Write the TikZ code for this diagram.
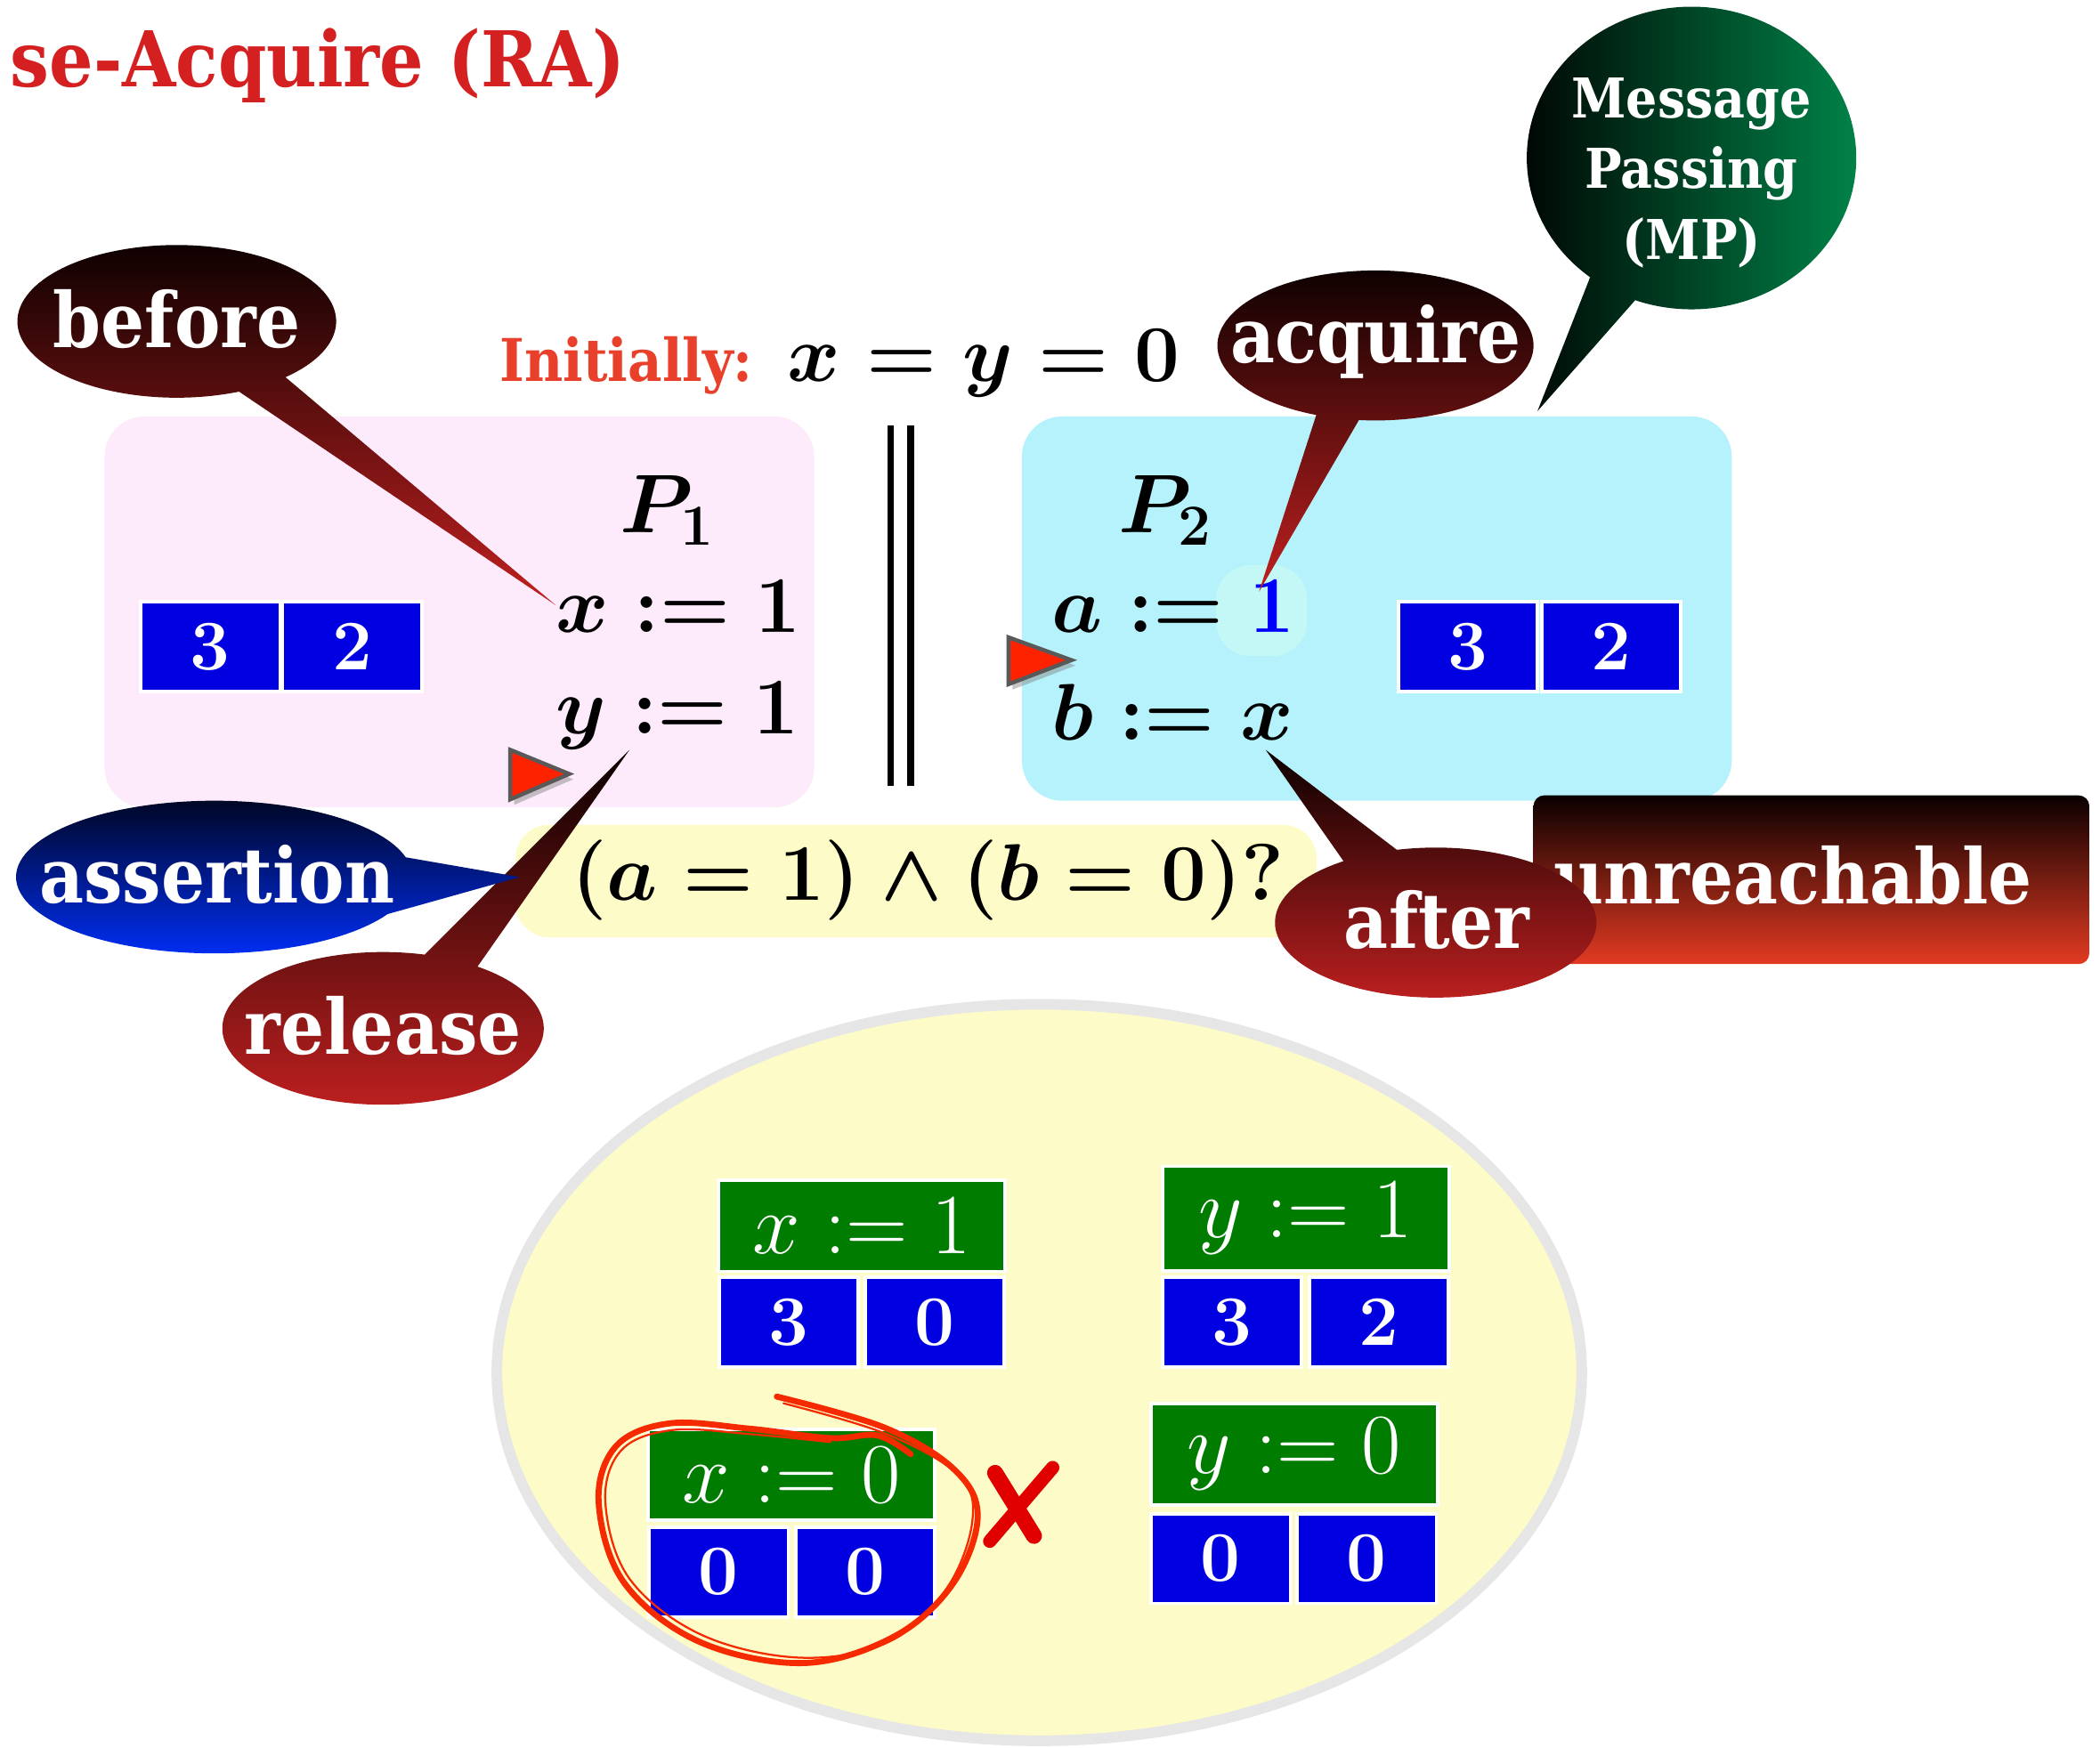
\RequirePackage{fix-cm}
\documentclass[tikz,border=0pt]{standalone}
\usepackage{fontspec}
\newfontfamily\slab[FakeStretch=0.9]{DejaVu Serif}
\usetikzlibrary{calc,shadows}
\definecolor{pinkbox}{HTML}{FDEAFA}
\definecolor{cyanbox}{HTML}{B5F2FB}
\definecolor{paleyel}{HTML}{FDFCC8}
\definecolor{cellblue}{HTML}{0000E0}
\definecolor{hdrgreen}{HTML}{007D00}
\definecolor{titlered}{HTML}{D42020}
\definecolor{initred}{HTML}{E8402A}
\definecolor{darkend}{HTML}{0A0000}
\definecolor{redend}{HTML}{C02020}
\definecolor{navytop}{HTML}{000418}
\definecolor{bluebot}{HTML}{0030FF}
\definecolor{mpgreen}{HTML}{008A4C}
\definecolor{hilite}{HTML}{C4F8F6}
\definecolor{markred}{HTML}{FF2200}
\definecolor{unrbot}{HTML}{E33A22}
\definecolor{blobgray}{HTML}{E6E6E6}
\definecolor{xred}{HTML}{E00000}
\definecolor{scribred}{HTML}{F52A00}
\newcommand\myfs[1]{\fontsize{#1}{#1}\selectfont}
\newcommand\bubble[7]{%
  \path[#7] (#6) -- ($(#1)+(#4:#2 and #3)$) arc[start angle=#4, end angle=#5, x radius=#2, y radius=#3] -- cycle;}
\begin{document}
\begin{tikzpicture}[x=1pt,y=-1pt,
  bubbletext/.style={text=white, font=\slab\bfseries\myfs{57}, inner sep=0, align=center},
  cell/.style={draw=white, line width=2.5, fill=cellblue, text=white, minimum width=104, minimum height=67, inner sep=0, font=\bfseries\myfs{53}},
  hdr/.style={draw=white, line width=2.5, fill=hdrgreen, text=white, minimum width=214, minimum height=68, inner sep=0, font=\myfs{64}},
  code/.style={anchor=base west, inner sep=0, font={\boldmath\myfs{60}}},
  marker/.style={fill=markred, draw=black!65, line width=3, line join=miter, drop shadow={opacity=0.45, shadow xshift=3pt, shadow yshift=-4pt}},
]
\useasboundingbox (0,0) rectangle (1568,1305);
\clip (0,0) rectangle (1568,1305);

% title
\node[anchor=base east, inner sep=0, text=titlered, font=\slab\bfseries\myfs{57.5}] (title) at (467,65) {se-Acquire (RA)};

% background boxes
\fill[pinkbox, rounded corners=30] (78,311) rectangle (608,603);
\fill[cyanbox, rounded corners=30] (763,311) rectangle (1293,598);
\fill[paleyel, rounded corners=25] (385,616) rectangle (983,700);
\fill[hilite, rounded corners=26] (908,422) rectangle (976,490);
\draw[blobgray, line width=8, fill=paleyel] (776,1025) ellipse [x radius=405, y radius=275];

% parallel bars
\draw[line width=5] (665,318) -- (665,587);
\draw[line width=5] (680,318) -- (680,587);

% program text
\node[anchor=base west, inner sep=0, text=initred, font=\slab\bfseries\myfs{44}] (init) at (373,285) {Initially:};
\node[code] (initm) at (588,285) {$x = y = 0$};
\node[inner sep=0, font={\boldmath\myfs{62}}] (p1) at (498,381) {$P_1$};
\node[inner sep=0, font={\boldmath\myfs{62}}] (p2) at (870,381) {$P_2$};
\node[code] (p1x) at (415,472) {$x := 1$};
\node[code] (p1y) at (415,548) {$y := 1$};
\node[code] (p2a) at (785,472) {$a := \textcolor{blue}{1}$};
\node[code] (p2b) at (785,553) {$b := x$};
\node[inner sep=0, font={\boldmath\myfs{60}}] (assert) at (693,657) {$(a = 1) \wedge (b = 0)?$};

% memory cells in threads
\node[cell] (c1a) at (157,483) {3};
\node[cell] (c1b) at (263,483) {2};
\node[cell] (c2a) at (1096,483) {3};
\node[cell] (c2b) at (1203,483) {2};

% markers
\draw[marker] (381,560) -- (381,597) -- (425,578) -- cycle;
\draw[marker] (753,476) -- (753,511) -- (800,493) -- cycle;

% callouts
\bubble{132,240}{119}{57}{67}{407}{415,452}{top color=darkend, bottom color=redend}
\node[bubbletext] (before) at (132,238) {before};

\bubble{1027,258}{118}{56}{112}{456}{940,442}{top color=darkend, bottom color=redend}
\node[bubbletext] (acquire) at (1027,255) {acquire};

\bubble{1263,118}{123}{113}{128}{470}{1148,307}{left color=black, right color=mpgreen}
\node[bubbletext, font=\slab\bfseries\fontsize{41}{53}\selectfont] (mp) at (1263,129) {Message\\Passing\\(MP)};

\bubble{286,768}{120}{57}{306}{645}{470,560}{top color=darkend, bottom color=redend}
\node[bubbletext] (release) at (286,766) {release};

\bubble{160,655}{148}{57}{29}{345}{388,655}{top color=navytop, bottom color=bluebot}
\node[bubbletext] (assertion) at (162,653) {assertion};

% unreachable
\shade[top color=darkend, bottom color=unrbot, rounded corners=8] (1145,594) rectangle (1560,720);
\node[bubbletext, anchor=base west] (unr) at (1160,675) {unreachable};

\bubble{1072,689}{120}{56}{256}{595}{945,560}{top color=darkend, bottom color=redend}
\node[bubbletext] (after) at (1073,687) {after};

% outcome boxes
\node[hdr] (ha) at (643.5,915.5) {$x := 1$};
\node[cell] (a1) at (589,987.5) {3};
\node[cell] (a2) at (698,987.5) {0};

\node[hdr, minimum height=78] (hb) at (975,910) {$y := 1$};
\node[cell] (b1) at (920,987.5) {3};
\node[cell] (b2) at (1029.5,987.5) {2};

\node[hdr] (hc) at (591,1101.5) {$x := 0$};
\node[cell] (cc1) at (536.5,1174) {0};
\node[cell] (cc2) at (646,1174) {0};

\node[hdr, minimum height=76] (hd) at (966.5,1086) {$y := 0$};
\node[cell] (d1) at (911.5,1164) {0};
\node[cell] (d2) at (1020.5,1164) {0};

% scribble and cross
\draw[scribred, line width=4.5, line cap=round, line join=round] plot[smooth, tension=0.6] coordinates {(580,1043) (660,1066) (712,1097) (730,1132) (712,1182) (668,1222) (600,1242) (522,1226) (466,1182) (447,1122) (460,1080) (500,1063) (560,1067) (620,1074) (655,1072) (680,1086)};
\draw[scribred, line width=1.5, line cap=round, line join=round] plot[smooth, tension=0.6] coordinates {(585,1048) (662,1071) (716,1102) (726,1136) (707,1186) (664,1226) (598,1238) (524,1221) (470,1179) (452,1122) (464,1083) (502,1068) (560,1071) (620,1077)};
\draw[xred, line width=12, line cap=round] (743,1100) -- (772,1147);
\draw[xred, line width=10, line cap=round] (786,1096) -- (739,1151);
\end{tikzpicture}
\end{document}
